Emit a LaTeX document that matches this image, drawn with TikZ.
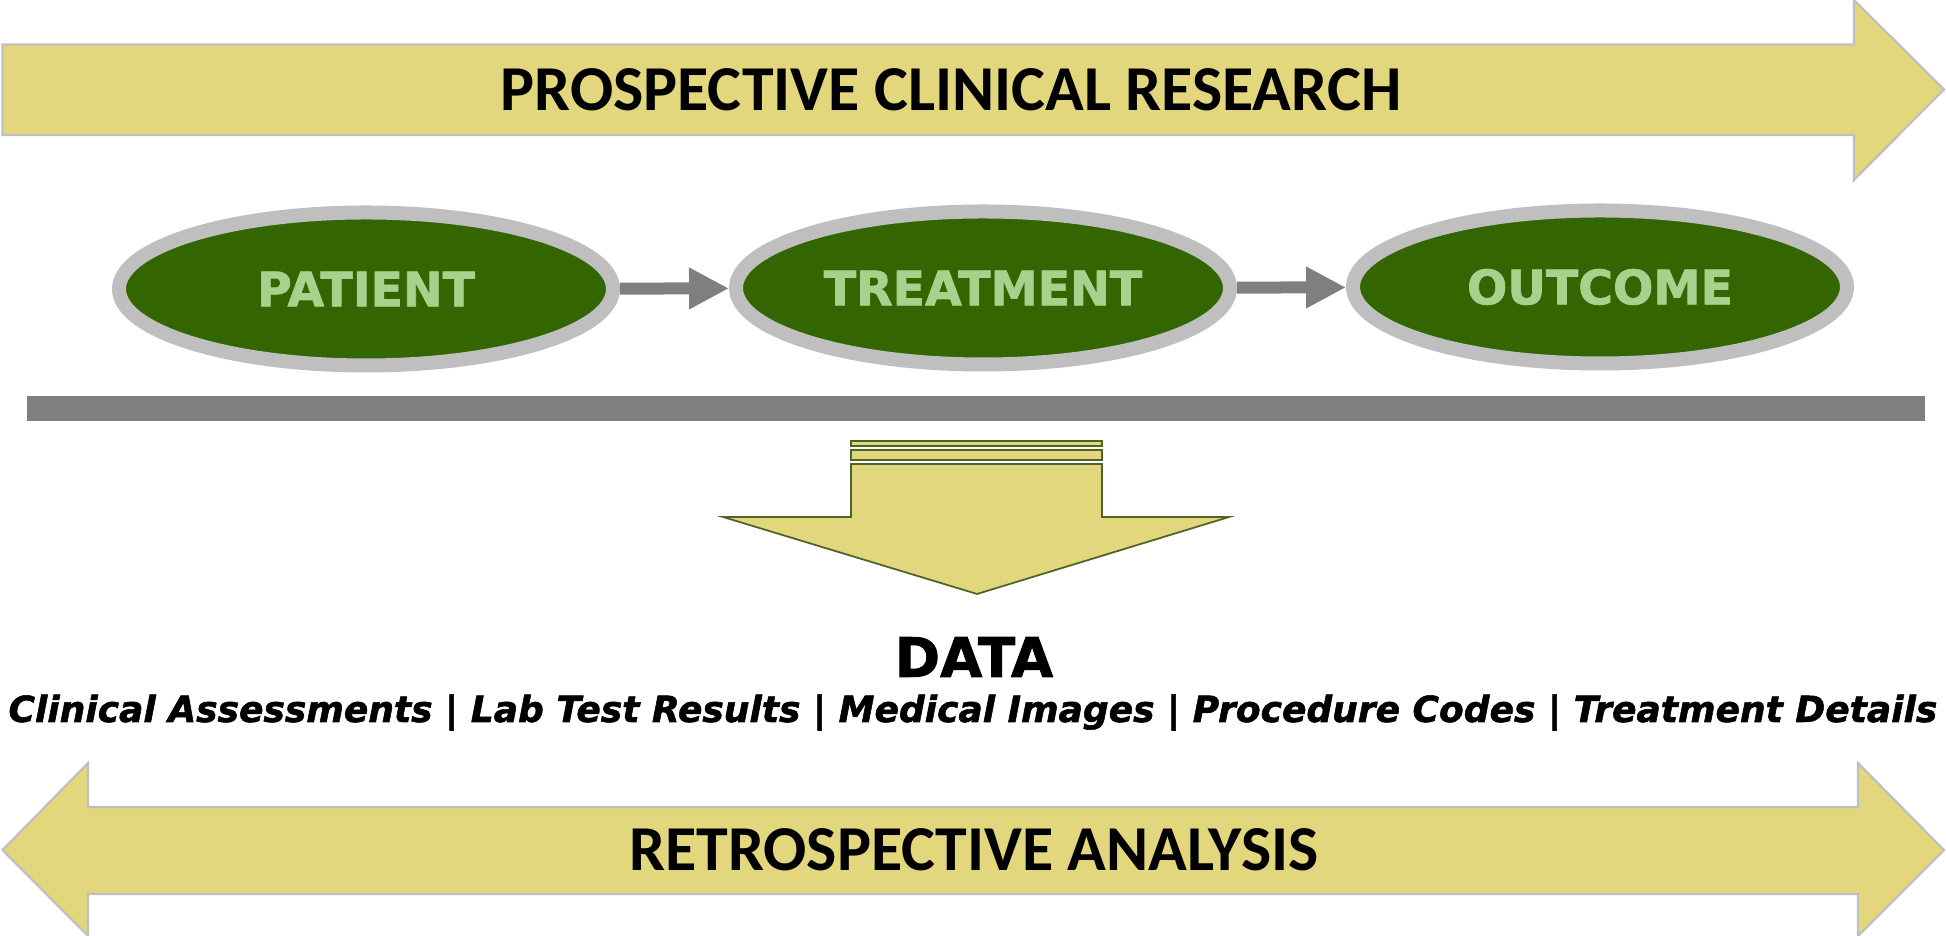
\documentclass[tikz,border=0pt]{standalone}
\usepackage{fontspec}
\setmainfont{Carlito}
\newfontfamily\blackfont{DejaVu Sans}[BoldFont={DejaVu Sans Bold},BoldFeatures={FakeBold=1.5},
	BoldItalicFont={DejaVu Sans Bold Oblique},BoldItalicFeatures={FakeBold=1.5}]
\usetikzlibrary{shapes.geometric,arrows.meta}

\definecolor{banneryellow}{HTML}{E2D77C}
\definecolor{stagegreen}{HTML}{336600}
\definecolor{stagetext}{HTML}{A9D18E}
\definecolor{ringgray}{HTML}{BFBFBF}
\definecolor{bargray}{HTML}{7F7F7F}
\definecolor{edgegreen}{HTML}{4F6228}

\begin{document}
\begin{tikzpicture}[
	banner/.style={fill=banneryellow,draw=ringgray,line width=0.6pt},
	bannertext/.style={font=\bfseries\fontsize{18.2}{21}\selectfont},
	stage/.style={ellipse,fill=stagegreen,draw=ringgray,line width=0.14cm,
		minimum width=4.94cm,minimum height=1.53cm,inner sep=0pt,
		text=stagetext,font=\blackfont\bfseries\fontsize{13.5}{16}\selectfont},
	flow/.style={draw=bargray,line width=0.12cm,-{Triangle[length=0.4cm,width=0.39cm]}},
	datafill/.style={fill=banneryellow,draw=edgegreen,line width=0.5pt}]
	\useasboundingbox (0,0) rectangle (19.46,9.36);

	% prospective banner
	\draw[banner] (0.025,8.915) -- (18.54,8.915) -- (18.54,9.36) -- (19.44,8.465)
		-- (18.54,7.56) -- (18.54,8.01) -- (0.025,8.01) -- cycle;
	\node[bannertext] (prosp) at (9.51,8.465) {PROSPECTIVE CLINICAL RESEARCH};

	\node[stage] (patient) at (3.66,6.47) {PATIENT};
	\node[stage] (treatment) at (9.83,6.48) {TREATMENT};
	\node[stage] (outcome) at (16.00,6.49) {OUTCOME};
	\draw[flow] (patient) -- (treatment);
	\draw[flow] (treatment) -- (outcome);

	\fill[bargray] (0.27,5.15) rectangle (19.25,5.40);

	% data arrow
	\draw[datafill] (8.51,4.953) rectangle (11.02,4.90);
	\draw[datafill] (8.51,4.86) rectangle (11.02,4.76);
	\draw[datafill] (8.51,4.72) -- (8.51,4.19) -- (7.23,4.19) -- (9.77,3.42)
		-- (12.29,4.19) -- (11.02,4.19) -- (11.02,4.72) -- cycle;

	\node[font=\blackfont\bfseries\fontsize{15.5}{18}\selectfont] (data) at (9.74,2.79) {DATA};
	\node[anchor=base,font=\blackfont\bfseries\itshape\fontsize{10.25}{12}\selectfont] (sources) at (9.73,2.14)
		{Clinical Assessments | Lab Test Results | Medical Images | Procedure Codes | Treatment Details};

	% retrospective banner
	\draw[banner] (0.025,0.86) -- (0.88,1.73) -- (0.88,1.29) -- (18.58,1.29) -- (18.58,1.73)
		-- (19.44,0.86) -- (18.58,0.0) -- (18.58,0.42) -- (0.88,0.42) -- (0.88,0.0) -- cycle;
	\node[bannertext] (retro) at (9.74,0.86) {RETROSPECTIVE ANALYSIS};
\end{tikzpicture}
\end{document}
